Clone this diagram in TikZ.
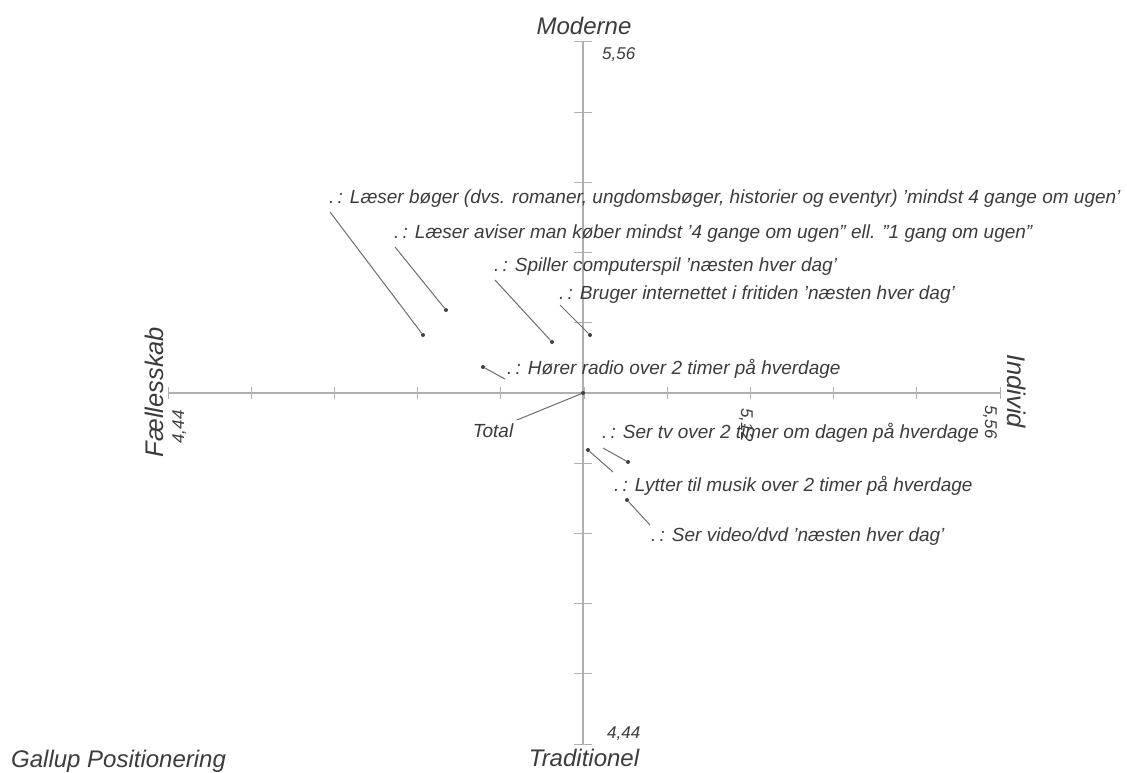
\documentclass[tikz,border=0pt]{standalone}
\usepackage{fontspec}
\setmainfont{Liberation Sans}
\definecolor{axisgray}{HTML}{AFAFAF}
\definecolor{txtgray}{HTML}{3C3C3C}
\definecolor{leadgray}{HTML}{6E6E6E}
\definecolor{dotgray}{HTML}{404040}
\begin{document}
\begin{tikzpicture}[x=1pt,y=-1pt,
  axis/.style={draw=axisgray, line width=1.6pt},
  tickmark/.style={draw=axisgray, line width=1pt},
  lbl/.style={font=\fontsize{19}{22}\selectfont\itshape, text=txtgray, inner sep=0pt, anchor=base west},
  ttl/.style={font=\fontsize{24}{28}\selectfont\itshape, text=txtgray, inner sep=0pt},
  sidettl/.style={font=\fontsize{25.5}{30}\selectfont\itshape, text=txtgray, inner sep=0pt},
  num/.style={font=\fontsize{17}{20}\selectfont\itshape, text=txtgray, inner sep=0pt},
  lead/.style={draw=leadgray, line width=1pt},
  pt/.style={circle, fill=dotgray, inner sep=0pt, minimum size=4pt}]
\useasboundingbox[fill=white] (0,0) rectangle (1127,773);

% axes
\coordinate (L) at (168,393);
\coordinate (R) at (1000,393);
\coordinate (T) at (583,42);
\coordinate (B) at (583,744);
\draw[axis] (L) -- (R);
\draw[axis] (T) -- (B);
\foreach \i in {0,...,10} {
  \draw[tickmark] ({168+83.2*\i},387) -- ({168+83.2*\i},399);
  \draw[tickmark] (574,{42+70.2*\i}) -- (592,{42+70.2*\i});
}

% axis titles
\node[ttl, anchor=base] (mod) at (584,35) {Moderne};
\node[ttl, anchor=base] (trad) at (584,766) {Traditionel};
\node[sidettl, rotate=90, anchor=base] (fael) at (163,392) {Fællesskab};
\node[sidettl, rotate=-90, anchor=base] (ind) at (1007,391) {Individ};
\node[ttl, anchor=base west] (gal) at (11,767) {Gallup Positionering};

% axis values
\node[num, anchor=base west] (v1) at (602,60) {5,56};
\node[num, anchor=base west] (v2) at (607,738) {4,44};
\node[num, rotate=90, anchor=base] (v3) at (184,427) {4,44};
\node[num, rotate=-90, anchor=base] (v4) at (741,425) {5,12};
\node[num, rotate=-90, anchor=base] (v5) at (985,422) {5,56};

% Total
\node[pt] (p0) at (583,393) {};
\coordinate (e0) at (517,420);
\draw[lead] (p0) -- (e0);
\node[lbl, anchor=base] (l0) at (493,437) {Total};

% 1
\node[pt] (p1) at (423,335) {};
\coordinate (e1) at (330,212);
\draw[lead] (e1) -- (p1);
\node[lbl] (l1) at (329,203) {.\,: Læser bøger (dvs. romaner, ungdomsbøger, historier og eventyr) 'mindst 4 gange om ugen'};

% 2
\node[pt] (p2) at (446,310) {};
\coordinate (e2) at (395,247);
\draw[lead] (e2) -- (p2);
\node[lbl] (l2) at (394,238) {.\,: Læser aviser man køber mindst '4 gange om ugen" ell. "1 gang om ugen"};

% 3
\node[pt] (p3) at (552,342) {};
\coordinate (e3) at (495,280);
\draw[lead] (e3) -- (p3);
\node[lbl] (l3) at (494,271) {.\,: Spiller computerspil 'næsten hver dag'};

% 4
\node[pt] (p4) at (590,335) {};
\coordinate (e4) at (560,305);
\draw[lead] (e4) -- (p4);
\node[lbl] (l4) at (559,299) {.\,: Bruger internettet i fritiden 'næsten hver dag'};

% 5
\node[pt] (p5) at (483,367) {};
\coordinate (e5) at (505,379);
\draw[lead] (p5) -- (e5);
\node[lbl] (l5) at (507,374) {.\,: Hører radio over 2 timer på hverdage};

% 7
\node[pt] (p7) at (628,462) {};
\coordinate (e7) at (603,448);
\draw[lead] (e7) -- (p7);
\node[lbl] (l7) at (602,438) {.\,: Ser tv over 2 timer om dagen på hverdage};

% 8
\node[pt] (p8) at (588,450) {};
\coordinate (e8) at (613,472);
\draw[lead] (p8) -- (e8);
\node[lbl] (l8) at (614,491) {.\,: Lytter til musik over 2 timer på hverdage};

% 9
\node[pt] (p9) at (627,500) {};
\coordinate (e9) at (650,525);
\draw[lead] (p9) -- (e9);
\node[lbl] (l9) at (651,541) {.\,: Ser video/dvd 'næsten hver dag'};
\end{tikzpicture}
\end{document}
